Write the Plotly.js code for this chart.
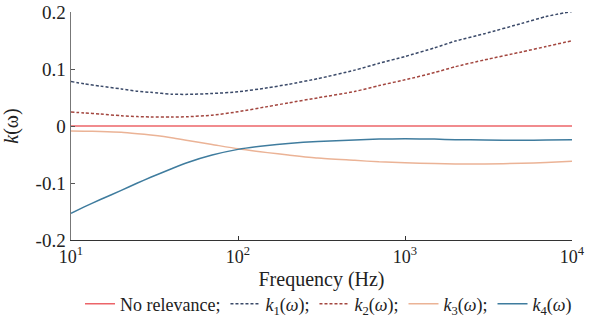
<!DOCTYPE html>
<html>
<head>
<meta charset="utf-8">
<script src="https://cdn.plot.ly/plotly-3.0.1.min.js"></script>
<style>
html,body{margin:0;padding:0;background:#fff;font-family:'Liberation Serif',serif;}
#chart{width:589px;height:335px;}
</style>
</head>
<body>
<div id="chart"></div>
<script>
// Frequency (Hz)
const freq = [10, 12, 15, 20, 25, 30, 40, 50, 70, 100, 150, 200, 300, 500, 700, 1000, 1500, 2000, 3000, 5000, 7000, 10000];
const noRelevance = freq.map(() => 0);
const k1 = [0.078, 0.074, 0.070, 0.065, 0.061, 0.059, 0.0558, 0.0555, 0.057, 0.060, 0.067, 0.073, 0.083, 0.098, 0.110, 0.122, 0.137, 0.149, 0.162, 0.180, 0.192, 0.201];
const k2 = [0.0245, 0.023, 0.021, 0.018, 0.0165, 0.0158, 0.0157, 0.0163, 0.019, 0.025, 0.034, 0.0405, 0.0494, 0.0606, 0.071, 0.081, 0.0937, 0.104, 0.116, 0.130, 0.1395, 0.1496];
const k3 = [-0.0087, -0.009, -0.0095, -0.0108, -0.0134, -0.016, -0.0206, -0.0253, -0.0324, -0.040, -0.0467, -0.0508, -0.0563, -0.0603, -0.0629, -0.0643, -0.066, -0.0665, -0.0666, -0.0655, -0.064, -0.062];
const k4 = [-0.153, -0.142, -0.129, -0.113, -0.100, -0.090, -0.075, -0.064, -0.051, -0.041, -0.034, -0.0305, -0.027, -0.0245, -0.023, -0.0225, -0.023, -0.024, -0.0245, -0.025, -0.0245, -0.024];

const xTickVals = [10, 100, 1000, 10000];
const xTickText = ['10<sup>1</sup>', '10<sup>2</sup>', '10<sup>3</sup>', '10<sup>4</sup>'];
const yTickVals = [-0.2, -0.1, 0, 0.1, 0.2];
const yTickText = ['-0.2', '-0.1', '0', '0.1', '0.2'];

const names = ['No relevance;', '<i>k</i><sub>1</sub>(<i>ω</i>);', '<i>k</i><sub>2</sub>(<i>ω</i>);', '<i>k</i><sub>3</sub>(<i>ω</i>);', '<i>k</i><sub>4</sub>(<i>ω</i>)'];
const series = [noRelevance, k1, k2, k3, k4];
const colors = ['#ec6469', '#3b4a69', '#a3463f', '#ebb396', '#3f7c9e'];
const dashes = ['solid', '3px,2px', '3px,2px', 'solid', 'solid'];

const traces = series.map((ys, i) => ({
  x: freq, y: ys, type: 'scatter', mode: 'lines', name: names[i],
  line: {color: colors[i], width: 1.5, dash: dashes[i], shape: 'spline', smoothing: 0.6},
  hoverinfo: 'skip'
}));

const FAM = 'Liberation Serif, Times New Roman, Times, serif';

const layout = {
  width: 589, height: 335,
  margin: {l: 71, r: 13, t: 12, b: 92, pad: 0},
  paper_bgcolor: '#fff', plot_bgcolor: '#fff',
  font: {family: FAM, size: 19, color: '#222'},
  showlegend: true,
  legend: {orientation: 'h', x: 1.01, xanchor: 'right', y: -0.2, yanchor: 'top',
           font: {family: FAM, size: 18, color: '#222'}, itemgap: 0, tracegroupgap: 0, itemwidth: 30,
           bgcolor: 'rgba(0,0,0,0)'},
  xaxis: {
    type: 'log', range: [1, 4],
    tickmode: 'array', tickvals: xTickVals, ticktext: xTickText,
    ticks: 'inside', ticklen: 4, tickwidth: 1, tickcolor: '#333',
    showline: true, linecolor: '#333', linewidth: 1.2, mirror: false,
    showgrid: false, zeroline: false, automargin: false,
    tickfont: {family: FAM, size: 18, color: '#222'},
    title: {text: 'Frequency (Hz)', font: {family: FAM, size: 20, color: '#222'}, standoff: 6}
  },
  yaxis: {
    range: [-0.2, 0.2], automargin: false,
    tickmode: 'array', tickvals: yTickVals, ticktext: yTickText,
    ticks: 'inside', ticklen: 4, tickwidth: 1, tickcolor: '#555',
    showline: true, linecolor: '#777', linewidth: 1.5, mirror: false,
    showgrid: false, zeroline: false,
    tickfont: {family: FAM, size: 19, color: '#222'},
    title: {text: '<i>k</i>(ω)', font: {family: FAM, size: 20, color: '#222'}, standoff: 12}
  }
};

Plotly.newPlot('chart', traces, layout, {staticPlot: true, displayModeBar: false});
</script>
</body>
</html>
